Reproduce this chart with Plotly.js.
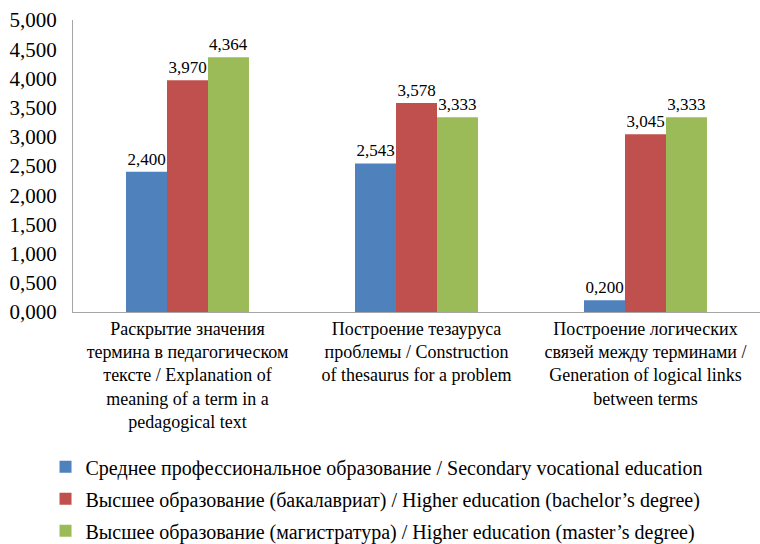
<!DOCTYPE html>
<html>
<head>
<meta charset="utf-8">
<script src="https://cdn.plot.ly/plotly-3.0.1.min.js"></script>
</head>
<body style="margin:0">
<div id="chart" style="width:760px;height:544px"></div>
<script>
// Task categories (multi-line axis labels)
const categories = [
  'Раскрытие значения<br>термина в педагогическом<br>тексте / Explanation of<br>meaning of a term in a<br>pedagogical text',
  'Построение тезауруса<br>проблемы / Construction<br>of thesaurus for a problem',
  'Построение логических<br>связей между терминами /<br>Generation of logical links<br>between terms'
];

// Series names
const seriesNames = [
  'Среднее профессиональное образование / Secondary vocational education',
  'Высшее образование (бакалавриат) / Higher education (bachelor’s degree)',
  'Высшее образование (магистратура) / Higher education (master’s degree)'
];

// Mean scores per education level
const secondaryVocational = [2.400, 2.543, 0.200];
const bachelors = [3.970, 3.578, 3.045];
const masters = [4.364, 3.333, 3.333];

const seriesColors = ['#4F81BD', '#C0504D', '#9BBB59'];

const yTicks = [0, 0.5, 1, 1.5, 2, 2.5, 3, 3.5, 4, 4.5, 5];

const fontFamily = 'Liberation Serif';

const seriesValues = [secondaryVocational, bachelors, masters];
const traces = seriesValues.map((vals, i) => ({
  type: 'bar',
  x: categories,
  y: vals,
  name: seriesNames[i],
  legendgroup: 'g' + i,
  marker: { color: seriesColors[i] },
  texttemplate: '%{y:.3f}',
  textposition: 'outside',
  textfont: { family: fontFamily, size: 17, color: '#000000' },
  cliponaxis: false,
  hoverinfo: 'skip'
}));

const layout = {
  width: 760,
  height: 544,
  separators: ',.',
  margin: { l: 73, r: 0, t: 20, b: 232, autoexpand: false },
  paper_bgcolor: '#ffffff',
  plot_bgcolor: '#ffffff',
  font: { family: fontFamily, color: '#000000', size: 16 },
  barmode: 'group',
  bargap: 0.463,
  bargroupgap: 0,
  showlegend: true,
  legend: {
    orientation: 'v',
    x: -0.04,
    xanchor: 'left',
    y: -0.463,
    yanchor: 'top',
    font: { family: fontFamily, size: 20, color: '#000000' },
    traceorder: 'grouped',
    tracegroupgap: 3,
    itemwidth: 30,
    bgcolor: 'rgba(0,0,0,0)'
  },
  xaxis: {
    type: 'category',
    showgrid: false,
    showline: true,
    linecolor: '#a6a6a6',
    linewidth: 1,
    ticks: '',
    tickfont: { family: fontFamily, size: 18, color: '#000000' },
    tickangle: 0,
    automargin: false
  },
  yaxis: {
    range: [0, 5],
    tickvals: yTicks,
    tickformat: '.3f',
    showgrid: false,
    zeroline: false,
    showline: true,
    linecolor: '#a6a6a6',
    linewidth: 1,
    ticks: '',
    ticklabelstandoff: 11,
    tickfont: { family: fontFamily, size: 21, color: '#000000' },
    automargin: false
  }
};

Plotly.newPlot('chart', traces, layout, { staticPlot: true });
</script>
</body>
</html>
